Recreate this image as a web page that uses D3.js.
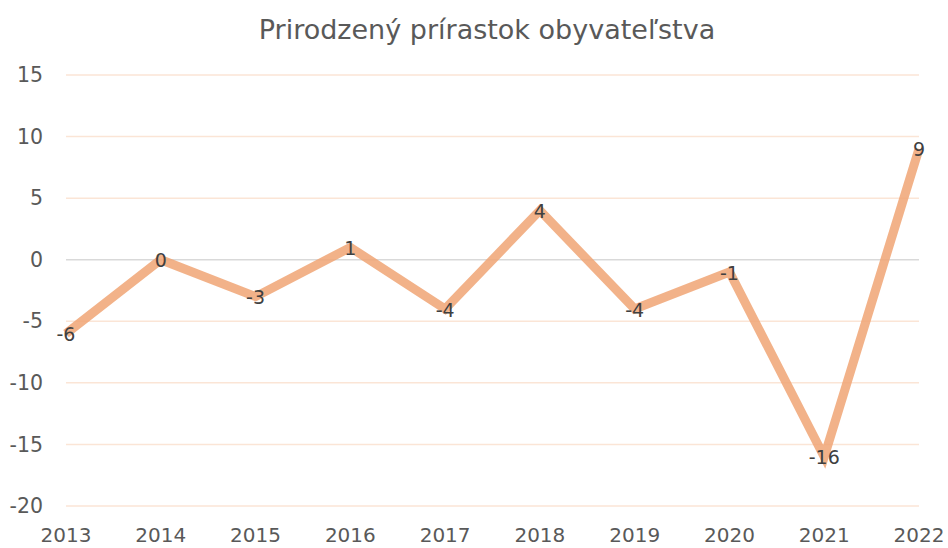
<!DOCTYPE html>
<html>
<head>
<meta charset="utf-8">
<script src="https://cdn.jsdelivr.net/npm/d3@7"></script>
<style>
  body { margin: 0; background: #fff; overflow: hidden; }
  svg { display: block; }
  text { font-family: "DejaVu Sans", sans-serif; }
</style>
</head>
<body>
<div class="content"></div>
<script>
const years = ['2013', '2014', '2015', '2016', '2017', '2018', '2019', '2020', '2021', '2022']
const values = [-6, 0, -3, 1, -4, 4, -4, -1, -16, 9]
const yTicks = [-20, -15, -10, -5, 0, 5, 10, 15]
const title = 'Prirodzený prírastok obyvateľstva'

const width = 948
const height = 548
const plotLeft = 66
const plotRight = 919
const plotTop = 75
const plotBottom = 506

const svg = d3.select('div.content')
    .append('svg')
    .attr('width', width)
    .attr('height', height)

const x = d3.scalePoint().domain(years).range([plotLeft, plotRight])
const y = d3.scaleLinear().domain([-20, 15]).range([plotBottom, plotTop])

// gridlines
svg.append('g')
    .selectAll('line')
    .data(yTicks)
    .join('line')
    .attr('x1', plotLeft)
    .attr('x2', plotRight)
    .attr('y1', d => y(d))
    .attr('y2', d => y(d))
    .attr('stroke', d => d === 0 ? '#d9d9d9' : '#fbe5d6')
    .attr('stroke-width', 1.5)

// y tick labels
svg.append('g')
    .selectAll('text')
    .data(yTicks)
    .join('text')
    .attr('x', 43)
    .attr('y', d => y(d))
    .attr('dy', '0.35em')
    .attr('text-anchor', 'end')
    .attr('font-size', 20.5)
    .attr('fill', '#595959')
    .text(d => d)

// x labels
svg.append('g')
    .selectAll('text')
    .data(years)
    .join('text')
    .attr('x', d => x(d))
    .attr('y', 542)
    .attr('text-anchor', 'middle')
    .attr('font-size', 20)
    .attr('fill', '#595959')
    .text(d => d)

// title
svg.append('text')
    .attr('x', 487)
    .attr('y', 39)
    .attr('text-anchor', 'middle')
    .attr('font-size', 27)
    .attr('fill', '#595959')
    .text(title)

// line
const line = d3.line()
    .x((d, i) => x(years[i]))
    .y(d => y(d))

svg.append('path')
    .datum(values)
    .attr('d', line)
    .attr('fill', 'none')
    .attr('stroke', '#f0a574')
    .attr('stroke-opacity', 0.85)
    .attr('stroke-width', 9)
    .attr('stroke-linejoin', 'miter')

// data labels
svg.append('g')
    .selectAll('text')
    .data(values)
    .join('text')
    .attr('x', (d, i) => x(years[i]))
    .attr('y', d => y(d))
    .attr('dy', '0.4em')
    .attr('text-anchor', 'middle')
    .attr('font-size', 19)
    .attr('fill', '#404040')
    .text(d => d)
</script>
</body>
</html>
